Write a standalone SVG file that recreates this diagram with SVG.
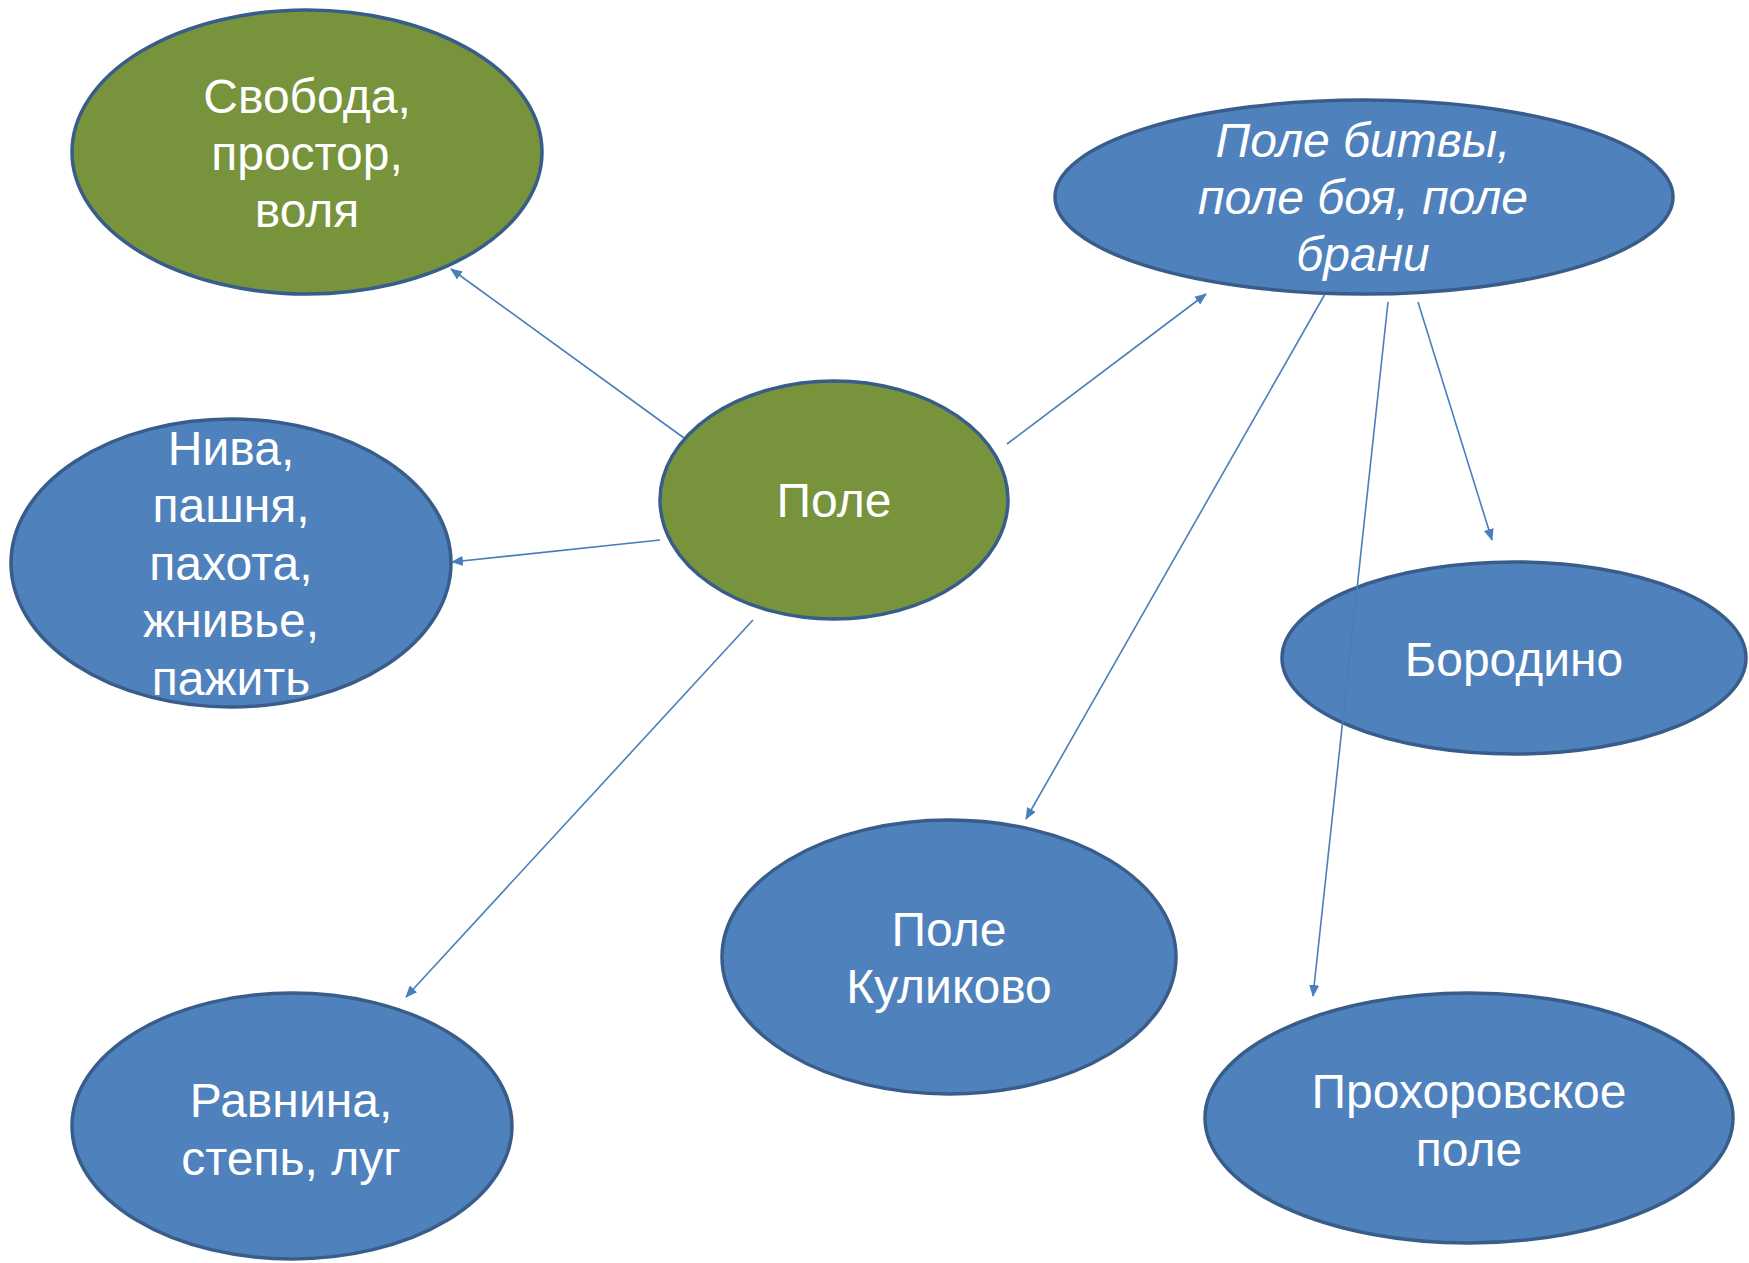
<svg xmlns="http://www.w3.org/2000/svg" width="1749" height="1263" viewBox="0 0 1749 1263">
<style>
.g{fill:#77933C;stroke:#385D8A;stroke-width:3.5}
.b{fill:#4F81BD;stroke:#385D8A;stroke-width:3.5}
.t{fill:#FFFFFF;font-family:"Liberation Sans",Arial,sans-serif;font-size:48px;text-anchor:middle}
.i{font-style:italic}
.c{stroke:#4A7EBB;stroke-width:1.6;fill:none;marker-end:url(#ah)}
</style>
<defs>
<marker id="ah" markerUnits="userSpaceOnUse" markerWidth="12" markerHeight="10" refX="11" refY="5" orient="auto">
<path d="M0,0 L12,5 L0,10 Z" fill="#4A7EBB"/>
</marker>
</defs>
<rect width="1749" height="1263" fill="#FFFFFF"/>
<g id="svoboda">
<ellipse class="g" cx="307" cy="152" rx="235" ry="142"/>
<text class="t"><tspan x="307" y="113">Свобода,</tspan><tspan x="307" y="170">простор,</tspan><tspan x="307" y="227">воля</tspan></text>
</g>
<g id="pole-bitvy">
<ellipse class="b" cx="1364" cy="197" rx="309" ry="97"/>
<text class="t i"><tspan x="1363" y="157">Поле битвы,</tspan><tspan x="1363" y="214">поле боя, поле</tspan><tspan x="1363" y="271">брани</tspan></text>
</g>
<g id="pole">
<ellipse class="g" cx="834" cy="500" rx="174" ry="119"/>
<text class="t" x="834" y="517">Поле</text>
</g>
<g id="niva">
<ellipse class="b" cx="231" cy="563" rx="220" ry="144"/>
<text class="t"><tspan x="231" y="465">Нива,</tspan><tspan x="231" y="522">пашня,</tspan><tspan x="231" y="580">пахота,</tspan><tspan x="231" y="637">жнивье,</tspan><tspan x="231" y="695">пажить</tspan></text>
</g>
<g id="borodino">
<ellipse class="b" cx="1514" cy="658" rx="232" ry="96"/>
<text class="t" x="1514" y="676">Бородино</text>
</g>
<g id="kulikovo">
<ellipse class="b" cx="949" cy="957" rx="227" ry="137"/>
<text class="t"><tspan x="949" y="946">Поле</tspan><tspan x="949" y="1003">Куликово</tspan></text>
</g>
<g id="ravnina">
<ellipse class="b" cx="292" cy="1126" rx="220" ry="133"/>
<text class="t"><tspan x="291" y="1117">Равнина,</tspan><tspan x="291" y="1175">степь, луг</tspan></text>
</g>
<g id="prokhorovka">
<ellipse class="b" cx="1469" cy="1118" rx="264" ry="125"/>
<text class="t"><tspan x="1469" y="1108">Прохоровское</tspan><tspan x="1469" y="1166">поле</tspan></text>
</g>
<g id="connectors">
<line class="c" x1="684" y1="438" x2="451" y2="269"/>
<line class="c" x1="660" y1="540" x2="452" y2="562"/>
<line class="c" x1="753" y1="620" x2="406" y2="997"/>
<line class="c" x1="1007" y1="444" x2="1206" y2="294"/>
<line class="c" x1="1325" y1="294" x2="1026" y2="819"/>
<line class="c" x1="1388" y1="302" x2="1313" y2="996"/>
<line class="c" x1="1418" y1="302" x2="1492" y2="540"/>
</g>
</svg>
